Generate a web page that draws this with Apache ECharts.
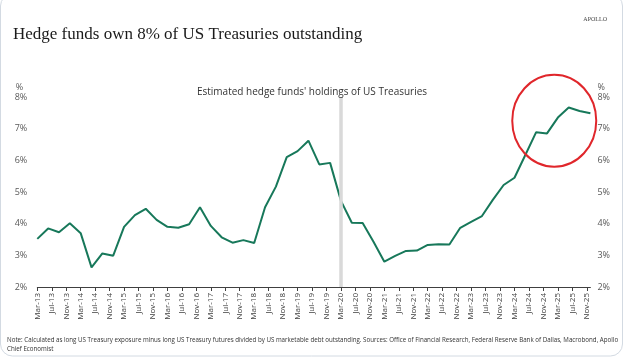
<!DOCTYPE html>
<html>
<head>
<meta charset="utf-8">
<script src="https://cdn.jsdelivr.net/npm/echarts@6/dist/echarts.min.js"></script>
<style>
html,body{margin:0;padding:0;background:#fff;}
#chart{width:624px;height:359px;}
</style>
</head>
<body>
<div id="chart"></div>
<script>
// ---- Data (quarterly, Mar-13 .. Dec-25) ----
const firstYear = 2013;
const lastYear = 2025;
const monthNames = ['Jan','Feb','Mar','Apr','May','Jun','Jul','Aug','Sep','Oct','Nov','Dec'];
const quarterEndMonths = ['Mar','Jun','Sep','Dec'];
const holdings = [
  3.52, 3.85, 3.73, 4.01,   // 2013
  3.70, 2.62, 3.06, 2.99,   // 2014
  3.90, 4.27, 4.47, 4.12,   // 2015
  3.90, 3.87, 3.98, 4.52,   // 2016
  3.93, 3.57, 3.40, 3.48,   // 2017
  3.39, 4.52, 5.17, 6.10,   // 2018
  6.29, 6.62, 5.87, 5.92,   // 2019
  4.72, 4.03, 4.02, 3.43,   // 2020
  2.80, 2.98, 3.14, 3.15,   // 2021
  3.33, 3.35, 3.34, 3.87,   // 2022
  4.06, 4.24, 4.75, 5.22,   // 2023
  5.45, 6.17, 6.89, 6.85,   // 2024
  7.35, 7.67, 7.56, 7.49    // 2025
];
const yTicks = [2, 3, 4, 5, 6, 7, 8];
const shadedPeriod = 'Mar-20';
const highlightCenter = ['Feb-25', 7.25];

const titleText = 'Hedge funds own 8% of US Treasuries outstanding';
const chartTitle = "Estimated hedge funds' holdings of US Treasuries";
const noteText = 'Note: Calculated as long US Treasury exposure minus long US Treasury futures divided by US marketable debt outstanding. Sources: Office of Financial Research, Federal Reserve Bank of Dallas, Macrobond, Apollo\nChief Economist';

// Monthly category axis from Mar-13 to Dec-25; data sits on quarter-end months
const categories = [];
const seriesData = [];
let qi = 0;
for (let y = firstYear; y <= lastYear; y++) {
  for (let m = 0; m < 12; m++) {
    if (y === firstYear && m < 2) continue;
    const lab = monthNames[m] + '-' + String(y).slice(2);
    categories.push(lab);
    if (quarterEndMonths.indexOf(monthNames[m]) >= 0) {
      seriesData.push(holdings[qi++]);
    } else {
      seriesData.push(null);
    }
  }
}

const GREEN = '#17785a';
const chart = echarts.init(document.getElementById('chart'), null, {renderer: 'canvas'});

const yAxisBase = {
  type: 'value', min: yTicks[0], max: yTicks[yTicks.length - 1], interval: 1,
  splitLine: {show: false}, axisLine: {show: false}, axisTick: {show: false},
  name: '%', nameLocation: 'end', nameGap: 5
};

chart.setOption({
  animation: false,
  backgroundColor: '#fff',
  title: [
    {text: titleText, left: 8, top: 21,
     textStyle: {fontFamily: 'Liberation Serif', fontWeight: 'normal', fontSize: 17, color: '#1a1a1a'}},
    {text: 'APOLLO', right: 12, top: 11,
     textStyle: {fontFamily: 'Liberation Serif', fontWeight: 'normal', fontSize: 6, color: '#444'}},
    {text: chartTitle, left: 'center', top: 82,
     textStyle: {fontFamily: 'Open Sans', fontWeight: 'normal', fontSize: 10, color: '#333'}},
    {text: noteText, left: 2, top: 331,
     textStyle: {fontFamily: 'Open Sans', fontWeight: 'normal', fontSize: 6.2, lineHeight: 9, color: '#333'}}
  ],
  grid: {left: 37.3, right: 33.6, top: 97, bottom: 72, containLabel: false},
  xAxis: {
    type: 'category', data: categories, boundaryGap: false,
    axisLine: {show: true, lineStyle: {color: '#404040', width: 1}},
    axisTick: {show: true, interval: 3, length: 4, lineStyle: {color: '#404040'}},
    axisLabel: {interval: 3, rotate: 90, fontFamily: 'Open Sans', fontSize: 8, color: '#404040', margin: 6}
  },
  yAxis: [
    Object.assign({}, yAxisBase, {position: 'left',
      axisLabel: {formatter: '{value}%', fontFamily: 'Open Sans', fontSize: 9, color: '#595959', margin: 10},
      nameTextStyle: {fontFamily: 'Open Sans', fontSize: 9, color: '#595959', align: 'right', padding: [0, 14, 0, 0]}}),
    Object.assign({}, yAxisBase, {position: 'right',
      axisLabel: {formatter: '{value}%', fontFamily: 'Open Sans', fontSize: 9, color: '#595959', margin: 7},
      nameTextStyle: {fontFamily: 'Open Sans', fontSize: 9, color: '#595959', align: 'left', padding: [0, 0, 0, 7]}})
  ],
  series: [
    {
      type: 'line', data: [], z: 1, silent: true,
      markLine: {silent: true, symbol: 'none', label: {show: false},
        lineStyle: {color: '#d9d9d9', width: 3.5, type: 'solid'},
        data: [{xAxis: shadedPeriod}]}
    },
    {
      type: 'line', data: seriesData, connectNulls: true, showSymbol: false, z: 3,
      lineStyle: {color: GREEN, width: 2}, itemStyle: {color: GREEN}
    }
  ]
});

const c = chart.convertToPixel({xAxisIndex: 0, yAxisIndex: 0}, highlightCenter);
chart.setOption({
  graphic: [
    {type: 'ellipse', shape: {cx: c[0], cy: c[1], rx: 42, ry: 46}, z: 10,
     style: {fill: 'none', stroke: '#e0262b', lineWidth: 2}},
    {type: 'rect', shape: {x: 0.5, y: -6, width: 622, height: 362, r: 12}, z: 0,
     style: {fill: 'none', stroke: '#d3dae2', lineWidth: 1}}
  ]
});
</script>
</body>
</html>
